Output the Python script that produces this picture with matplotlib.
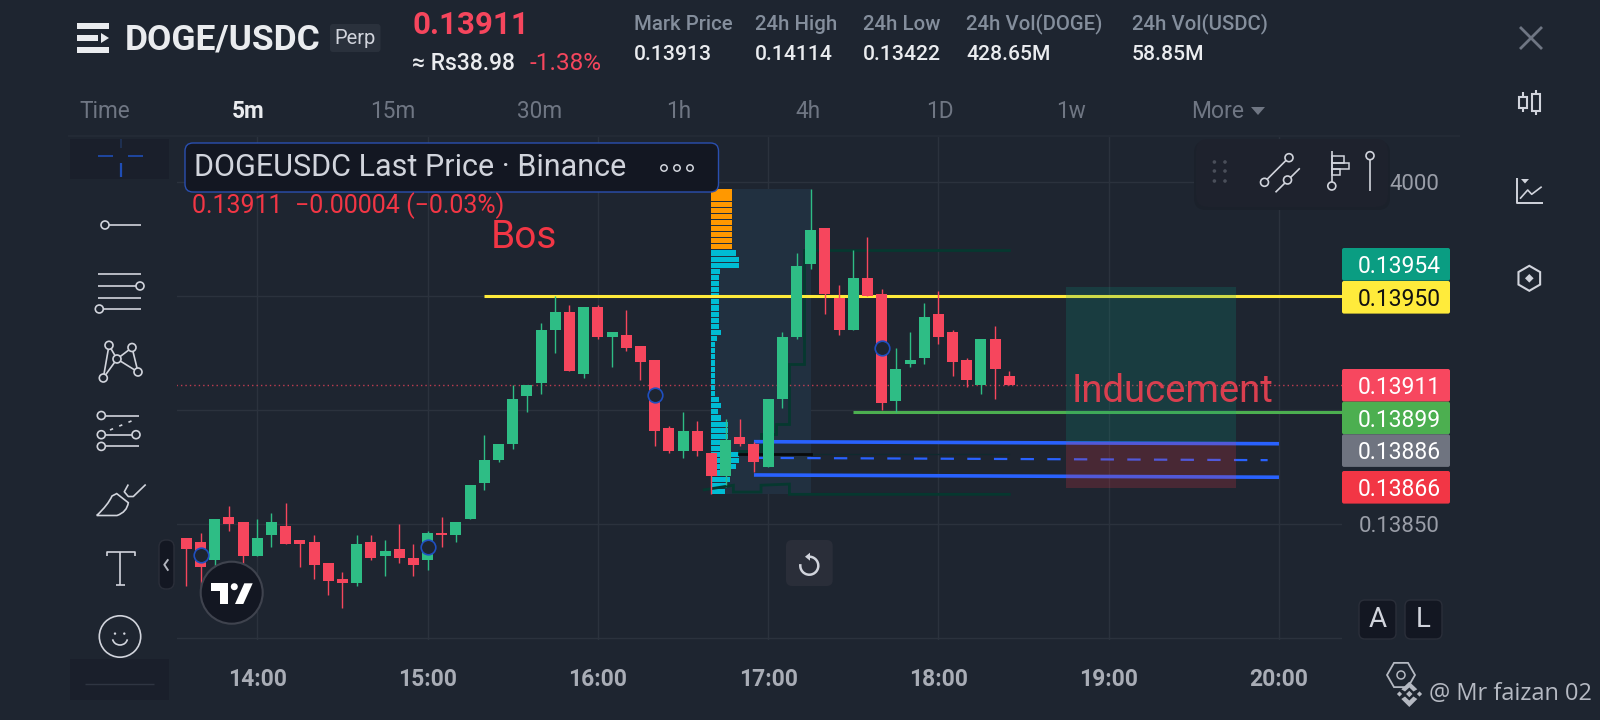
import numpy as np
import matplotlib
matplotlib.use('Agg')
import matplotlib.pyplot as plt
from matplotlib.patches import Circle, Rectangle, FancyBboxPatch, Polygon, Arc, PathPatch
from matplotlib.path import Path

plt.rcParams['font.family'] = ['Roboto', 'DejaVu Sans']

# candle data, prices in 1e-5 units, first candle is 13:35, 5m bars
opens = [13844, 13842, 13834, 13853, 13851, 13836, 13845, 13849, 13843, 13842,
         13833, 13826, 13824, 13842, 13836, 13839, 13835, 13834, 13846, 13845,
         13852, 13868, 13878, 13885, 13906, 13912, 13935, 13943, 13916, 13945,
         13932, 13933, 13928, 13922, 13892, 13882, 13891, 13881, 13871, 13888,
         13885, 13875, 13905, 13932, 13964, 13980, 13949, 13935, 13958, 13951,
         13904, 13920, 13923, 13942, 13934, 13922, 13911, 13931, 13915]
highs = [13844, 13846, 13852, 13858, 13851, 13852, 13855, 13859, 13843, 13845,
         13833, 13829, 13845, 13845, 13843, 13850, 13841, 13847, 13853, 13851,
         13867, 13889, 13885, 13911, 13911, 13938, 13950, 13946, 13945, 13946,
         13934, 13944, 13928, 13922, 13893, 13899, 13895, 13881, 13896, 13896,
         13886, 13905, 13934, 13969, 13997, 13980, 13955, 13970, 13976, 13953,
         13927, 13934, 13947, 13952, 13935, 13923, 13931, 13937, 13917]
lows = [13823, 13822, 13829, 13847, 13832, 13836, 13840, 13841, 13831, 13826,
        13819, 13813, 13823, 13834, 13827, 13833, 13827, 13830, 13840, 13842,
        13852, 13865, 13877, 13883, 13899, 13907, 13925, 13917, 13914, 13931,
        13919, 13926, 13913, 13884, 13881, 13879, 13880, 13863, 13867, 13884,
        13873, 13875, 13901, 13931, 13962, 13942, 13933, 13935, 13950, 13900,
        13899, 13919, 13920, 13929, 13915, 13910, 13907, 13905, 13911]
closes = [13839, 13831, 13852, 13850, 13836, 13844, 13851, 13841, 13841, 13832,
          13825, 13824, 13841, 13835, 13838, 13835, 13832, 13846, 13845, 13851,
          13867, 13878, 13885, 13905, 13911, 13935, 13943, 13917, 13945, 13932,
          13934, 13927, 13921, 13891, 13882, 13891, 13882, 13871, 13887, 13885,
          13877, 13905, 13932, 13963, 13979, 13951, 13935, 13958, 13950, 13903,
          13918, 13922, 13941, 13932, 13921, 13913, 13931, 13918, 13911]
first_candle = -5  # candles counted from 14:00

hour_labels = ['14:00', '15:00', '16:00', '17:00', '18:00', '19:00', '20:00']
price_ticks = [14000, 13950, 13900, 13850, 13800]
# the 0.14000 label is half hidden by the floating toolbar, only 4000 shows
price_tick_labels = ['4000', '', '', '0.13850', '']

# volume profile, rows top to bottom
vp_top, vp_bottom = 13997, 13863
vp_start, vp_end = 32, 39
vp_up = [21] * 10
vp_down = [25, 28, 28, 9, 8, 8, 8, 8, 8, 8, 8, 8, 8, 10, 6, 4, 4, 4, 4, 4, 4, 4, 4, 4,
           8, 10, 7, 10, 17, 17, 17, 17, 17, 28, 28, 25, 20, 19, 16, 14]

# drawings
last_price = 13911
yellow_level, yellow_start = 13950, 16
green_level, green_start = 13899, 42
blue_top = ([35, 72], [13886.1, 13885.2])
blue_mid = ([35, 71.2], [13879, 13878])
blue_low = ([35, 72], [13871.5, 13870.5])
pos_start, pos_end = 57, 69
pos_target, pos_entry, pos_stop = 13954, 13886, 13866
step_low_x = [31.5, 33.55, 33.55, 35.5, 35.5, 37.5, 37.5, 53]
step_low_y = [13865, 13867, 13864, 13864, 13867, 13867.5, 13863, 13863]
step_up_x = [33.95, 35.5, 35.5, 36.55, 36.55, 37.5, 37.5, 38.55, 38.55, 39.9, 53]
step_up_y = [13882, 13882, 13889.5, 13889.5, 13894, 13894, 13920, 13920, 13970, 13970, 13970]
black_x, black_y = [33.95, 39], [13880.6, 13880.6]
thin_x, thin_y = [39, 53], [13880.5, 13880.5]
ring_idx = [-4, 12, 28, 44]
ring_price = [13836.3, 13839.8, 13906.4, 13927.1]

axis_labels = ['0.13954', '0.13950', '0.13911', '0.13899', '0.13886', '0.13866']
axis_label_colors = ['#0a9d82', '#ffeb3b', '#f7475f', '#4caf50', '#6f7480', '#f23645']
axis_label_text = ['white', '#111111', 'white', 'white', 'white', 'white']
axis_label_tops = [248, 281, 369, 401.7, 434.3, 471]

stat_names = ['Mark Price', '24h High', '24h Low', '24h Vol(DOGE)', '24h Vol(USDC)']
stat_values = ['0.13913', '0.14114', '0.13422', '428.65M', '58.85M']
stat_x = [634, 755, 863, 966, 1132]
frames = ['Time', '5m', '15m', '30m', '1h', '4h', '1D', '1w']
frames_x = [105, 248, 393, 540, 679, 808, 940, 1071]

BG = '#1e2530'
UP = '#2ebd85'
DOWN = '#f6465d'
ICON = '#d1d4dc'
PX = 14.19  # px per candle

fig = plt.figure(figsize=(16, 7.2), dpi=100, facecolor=BG)

# main chart pane, 177..1342 x 136..640 in screen px
ax = fig.add_axes([177 / 1600, 1 - 640 / 720, (1342 - 177) / 1600, (640 - 136) / 720])
ax.set_facecolor('none')
for s in ax.spines.values():
    s.set_visible(False)
ax.set_xlim((177 - 257.3) / PX, (1342 - 257.3) / PX)
ax.set_ylim(13799.1, 14020.2)

ax.set_xticks(np.arange(len(hour_labels)) * 12)
ax.set_xticklabels(hour_labels, fontsize=16.5, fontweight='bold', color='#a9adb6')
ax.yaxis.tick_right()
ax.set_yticks(price_ticks)
ax.set_yticklabels(price_tick_labels, fontsize=16, color='#9a9ea8', ha='right')
ax.tick_params(axis='x', length=0, pad=20)
ax.tick_params(axis='y', length=0, pad=70)
ax.grid(True, color='#2b323d', linewidth=1)
ax.set_axisbelow(True)

x = first_candle + np.arange(len(opens))
o = np.array(opens, dtype=float)
h = np.array(highs, dtype=float)
l = np.array(lows, dtype=float)
c = np.array(closes, dtype=float)
colors = [UP if cc >= oo else DOWN for oo, cc in zip(o, c)]

# volume profile with its range box
ax.add_patch(Rectangle((vp_start, vp_bottom), vp_end - vp_start, vp_top - vp_bottom,
                       color='#213040', lw=0, zorder=1))
vols = np.array(vp_up + vp_down, dtype=float)
edges = np.linspace(vp_top, vp_bottom, len(vols) + 1)
centers = (edges[:-1] + edges[1:]) / 2
vp_colors = ['#ff9800'] * len(vp_up) + ['#00bcd4'] * len(vp_down)
ax.barh(centers, vols / PX, left=vp_start, height=abs(edges[1] - edges[0]) * 0.84,
        color=vp_colors, lw=0, zorder=2)

# dark step lines from the indicator
ax.plot(step_low_x, step_low_y, color='#06382f', lw=2, zorder=2.5, solid_joinstyle='miter')
ax.plot(step_up_x, step_up_y, color='#06382f', lw=2, zorder=2.5, solid_joinstyle='miter')
ax.plot(thin_x, thin_y, color='#0f2a2e', lw=1, zorder=2.5)
ax.plot(black_x, black_y, color='#080a0c', lw=2, zorder=2.5)

# levels
ax.plot([x[0] - 0.7, ax.get_xlim()[1]], [last_price, last_price], color=DOWN, lw=1,
        ls=(0, (1, 2.2)), alpha=0.75, zorder=2.6)
ax.plot([yellow_start, ax.get_xlim()[1]], [yellow_level] * 2, color='#ffeb3b', lw=2.2,
        zorder=3, solid_capstyle='butt')
ax.plot([green_start, ax.get_xlim()[1]], [green_level] * 2, color='#4caf50', lw=2.2,
        zorder=3, solid_capstyle='butt')
ax.plot(*blue_top, color='#2962ff', lw=2.6, zorder=3, solid_capstyle='butt')
ax.plot(*blue_low, color='#2962ff', lw=2.6, zorder=3, solid_capstyle='butt')
ax.plot(*blue_mid, color='#2962ff', lw=1.6, ls=(0, (6, 6)), zorder=3)

# candles
ax.vlines(x, l, h, colors=colors, lw=1.0, zorder=4)
ax.bar(x, np.abs(c - o), bottom=np.minimum(o, c), width=11 / PX, color=colors, lw=0, zorder=5)
ax.plot(ring_idx, ring_price, ls='none', marker='o', ms=10.5, mfc=BG, mec='#1f4fc0',
        mew=1.2, zorder=6)

# long position box goes above the lines
ax.add_patch(Rectangle((pos_start, pos_entry), pos_end - pos_start, pos_target - pos_entry,
                       color='#089981', alpha=0.2, lw=0, zorder=7))
ax.add_patch(Rectangle((pos_start, pos_stop), pos_end - pos_start, pos_entry - pos_stop,
                       color='#f23645', alpha=0.2, lw=0, zorder=7))

# everything else is the app chrome, drawn in screen px
ov = fig.add_axes([0, 0, 1, 1], zorder=10)
ov.set_xlim(0, 1600)
ov.set_ylim(720, 0)
ov.axis('off')
ov.patch.set_alpha(0)


def txt(px, py, s, size, color, ha='left', weight='normal', family=None):
    # va center sits a bit high for digits, nudge down
    return ov.text(px, py + 2, s, fontsize=size, color=color, ha=ha, va='center',
                   fontweight=weight, family=family if family else ['Roboto', 'DejaVu Sans'])


def box(x0, y0, x1, y1, fc, ec='none', lw=0, r=3):
    ov.add_patch(FancyBboxPatch((x0 + r, y0 + r), x1 - x0 - 2 * r, y1 - y0 - 2 * r,
                                boxstyle='round,pad=%s,rounding_size=%s' % (r, r),
                                fc=fc, ec=ec, lw=lw))


def line(xs, ys, color=ICON, lw=1.2, **kw):
    ov.plot(xs, ys, color=color, lw=lw, solid_capstyle=kw.pop('cap', 'butt'), **kw)


def ring(px, py, r, color=ICON, lw=1.2, fc=BG):
    ov.add_patch(Circle((px, py), r, fc=fc, ec=color, lw=lw, zorder=3))


# header
ov.add_patch(Rectangle((77, 23), 32, 6, color='#eaecef', lw=0))
ov.add_patch(Rectangle((77, 35), 21, 6, color='#eaecef', lw=0))
ov.add_patch(Polygon([(101, 33), (109, 38), (101, 43)], color='#eaecef', lw=0))
ov.add_patch(Rectangle((77, 47), 32, 6, color='#eaecef', lw=0))
txt(124.5, 38, 'DOGE/USDC', 25.5, '#eaecef', weight='bold')
box(330, 24, 380.5, 52, '#2a313c')
txt(355, 37, 'Perp', 14.5, '#d1d4dc', ha='center')
txt(412, 23, '0.13911', 22.5, DOWN, weight='bold')
txt(412, 62, '≈ Rs38.98', 16.5, '#eaecef', weight=500)
txt(530, 62, '-1.38%', 17.5, DOWN)
for px, name, val in zip(stat_x, stat_names, stat_values):
    txt(px, 22, name, 14.7, '#848e9c', weight=500)
    txt(px, 52, val, 15.2, '#eaecef', weight=500)

# timeframes row
for px, name in zip(frames_x, frames):
    txt(px, 110, name, 16.3, '#eaecef' if name == '5m' else '#6f7683', ha='center',
        weight='bold' if name == '5m' else 'normal')
txt(1191, 110, 'More', 16.5, '#6f7683')
ov.add_patch(Polygon([(1251, 107), (1265, 107), (1258, 115)], color='#6f7683', lw=0))
line([68, 1460], [136, 136], color='#232a35', lw=1.5)

# left toolbar
ov.add_patch(Rectangle((70, 139), 99, 40, color='#1a1f2b', lw=0))
ov.add_patch(Rectangle((70, 659), 99, 41, color='#1a1f2b', lw=0))
line([85, 154], [684, 684], color='#2f3542', lw=1)
BLUE = '#1f4db5'
line([98, 113], [155.5, 155.5], color=BLUE)
line([128, 143], [155.5, 155.5], color=BLUE)
line([120.7, 120.7], [139, 148], color='#1f3358')
line([120.7, 120.7], [163, 177], color=BLUE, lw=1.6)
line([105, 141], [225, 225])
ring(105, 225, 4)
for yy, x0 in zip([274.4, 286, 297.6, 309], [98.3, 98.3, 98.3, 99.3]):
    line([x0, 141], [yy, yy])
ring(140, 286, 4)
ring(99.3, 309, 4)
pts = {'a': (109, 345.3), 'b': (132, 347.5), 'c': (117, 359), 'd': (103.3, 378), 'e': (138, 372)}
for p, q in ['da', 'ac', 'cb', 'be', 'ec', 'cd']:
    line([pts[p][0], pts[q][0]], [pts[p][1], pts[q][1]])
for p in pts.values():
    ring(p[0], p[1], 4)
line([101.3, 138.7], [415.5, 415.5])
line([101.3, 136], [434.7, 434.7])
line([101.3, 138.7], [446.4, 446.4])
line([110, 135], [430, 419.5], ls=(0, (2, 4)))
ring(101.3, 415.5, 4)
ring(101.3, 434.7, 4)
ring(136, 434.7, 4)
ring(101.3, 446.4, 4)
# brush
line([145.7, 133.3, 128.3, 124.3, 128.3], [484.5, 496.5, 496.5, 491.8, 484.5])
brush = Path([(96.7, 515.5), (108, 505), (112, 496), (116.7, 493.6), (128.3, 502.7),
              (127, 512), (117, 515.5), (96.7, 515.5)],
             [Path.MOVETO, Path.CURVE3, Path.CURVE3, Path.LINETO, Path.LINETO,
              Path.CURVE3, Path.CURVE3, Path.LINETO])
ov.add_patch(PathPatch(brush, fc='none', ec=ICON, lw=1.2))
line([106.7, 106.7, 134.7, 134.7], [556, 551.8, 551.8, 556])
line([120, 120], [551.8, 584.5])
line([115.7, 125.3], [584.5, 584.5])
ring(120, 636.5, 20.7, fc='none')
ov.add_patch(Circle((115, 633.6), 1.2, color=ICON, lw=0))
ov.add_patch(Circle((124.3, 633.6), 1.2, color=ICON, lw=0))
ov.add_patch(Arc((120, 638), 15, 14, theta1=10, theta2=170, color=ICON, lw=1.2))

# collapse pill and tv logo
box(159, 540, 174, 589, '#131722', ec='#2a2e39', lw=1, r=7)
line([168.3, 164.3, 168.3], [559.3, 564.7, 570.7], color='#b2b5be', lw=1.4)
ov.add_patch(Circle((231.7, 592.7), 31, fc='#131722', ec='#3f434e', lw=1.5))
ov.add_patch(Polygon([(211.3, 583.3), (228.3, 583.3), (228.3, 604), (220, 604), (220, 590.7),
                      (211.3, 590.7)], color='white', lw=0))
ov.add_patch(Circle((234.3, 586.7), 3.5, color='white', lw=0))
ov.add_patch(Polygon([(244.3, 583.3), (252.7, 583.3), (243.3, 604), (235, 604)], color='white', lw=0))

# legend
box(185, 143, 718.5, 192, '#131722', ec='#2a4fb0', lw=1, r=8)
txt(194, 165.5, 'DOGEUSDC Last Price · Binance', 22, '#d1d4dc')
for px in [664, 677, 690]:
    ring(px, 168, 3.2, color='#d1d4dc', lw=1.1, fc='#131722')
txt(192, 204, '0.13911  −0.00004 (−0.03%)', 18, '#f23645')
txt(491, 235, 'Bos', 28, '#f23645')
txt(1072, 390, 'Inducement', 27.5, '#d93f4f')

# floating drawing toolbar
box(1194, 141, 1390, 210, '#1b212b', r=12)
box(1196, 139, 1388, 207, '#1e222d', r=12)
for dx in [1214.4, 1225]:
    for dy in [162, 171, 181]:
        ov.add_patch(Circle((dx, dy), 1.8, color='#4a4f5a', lw=0))
line([1266.4, 1286.4], [180, 160])
line([1275.5, 1299.8], [192.3, 168.3])
ring(1264.5, 182.3, 4, fc='#1e222d')
ring(1289, 157.7, 4, fc='#1e222d')
ring(1287.5, 180, 4, fc='#1e222d')
line([1331.8, 1331.8], [150.7, 181.7])
ring(1331.8, 186, 4, fc='#1e222d')
for x1, y0, y1 in [(1343.5, 156, 162.7), (1349.3, 162.7, 169.3), (1339.8, 169.3, 175)]:
    ov.add_patch(Rectangle((1331.8, y0), x1 - 1331.8, y1 - y0, fc='none', ec=ICON, lw=1.1))
line([1370, 1370], [159, 190.7])
ring(1370, 155.7, 4, fc='#1e222d')

# price labels on the axis
for label, fc, tc, top in zip(axis_labels, axis_label_colors, axis_label_text, axis_label_tops):
    box(1342, top, 1450, top + 32.6, fc, r=2)
    txt(1441, top + 16.5, label, 16.5, tc, ha='right')

# reset, A and L buttons
box(786, 540, 832.7, 586, '#2a2e39', r=6)
ov.add_patch(Arc((809.3, 565.7), 18, 18, theta1=-90, theta2=190, color=ICON, lw=1.8))
ov.add_patch(Polygon([(805, 556.7), (810, 552.7), (810, 560.7)], color=ICON, lw=0))
box(1359, 600, 1396, 639, '#131722', ec='#2a2e39', lw=1, r=6)
box(1405, 600, 1442, 639, '#131722', ec='#2a2e39', lw=1, r=6)
txt(1377.5, 617.5, 'A', 20, ICON, ha='center')
txt(1423.5, 617.5, 'L', 20, ICON, ha='center')

# right rail
line([1520, 1542], [27, 49], color='#6f7683', lw=2)
line([1542, 1520], [27, 49], color='#6f7683', lw=2)
line([1523, 1523], [92, 112], lw=1.5)
ov.add_patch(Rectangle((1519, 96.7), 8, 11.3, fc=BG, ec=ICON, lw=1.5, zorder=3))
line([1536, 1536], [90, 115], lw=1.5)
ov.add_patch(Rectangle((1532, 94), 8, 17, fc=BG, ec=ICON, lw=1.5, zorder=3))
line([1516.7, 1516.7, 1542.7], [178, 202.7, 202.7], lw=1.4)
line([1520, 1527.7, 1531.7, 1541.7], [198.7, 190, 194.3, 186.7], lw=1.2)
ov.add_patch(Polygon([(1521, 179), (1529, 179), (1525, 183.5)], color=ICON, lw=0))
ang = np.deg2rad(np.arange(30, 390, 60))
ov.add_patch(Polygon(np.c_[1529.3 + 12.5 * np.cos(ang), 278.3 + 12.5 * np.sin(ang)], closed=True,
                     fc='none', ec=ICON, lw=1.5))
ov.add_patch(Polygon([(1529.3, 274), (1533.6, 278.3), (1529.3, 282.6), (1525, 278.3)], color=ICON, lw=0))

# watermark bottom right
WM = '#b5b9c2'
ang = np.deg2rad(np.arange(0, 360, 60))
ov.add_patch(Polygon(np.c_[1401 + 14 * np.cos(ang), 675 + 14 * np.sin(ang)], closed=True, fc='none',
                     ec=WM, lw=1.3))
ring(1401, 675, 4, color=WM, lw=1.1, fc='none')
ov.add_patch(Polygon([(1409.3, 681.7), (1417.3, 689.3), (1413.5, 691.5), (1409.3, 687.5),
                      (1405, 691.5), (1401.3, 689.3)], fc=WM, lw=0))
ov.add_patch(Polygon([(1409.3, 707), (1417.3, 699), (1413.5, 696.5), (1409.3, 700.5),
                      (1405, 696.5), (1401.3, 699)], fc=WM, lw=0))
for dx, rd in [(1399.5, 2.6), (1409.3, 3.2), (1419.5, 2.6)]:
    ov.add_patch(Polygon([(dx, 694 - rd), (dx + rd, 694), (dx, 694 + rd), (dx - rd, 694)], fc=WM, lw=0))
txt(1429, 692, '@ Mr faizan 02', 17, WM, family=['Open Sans', 'DejaVu Sans'])

fig.savefig('out.png', dpi=100, facecolor=BG)
